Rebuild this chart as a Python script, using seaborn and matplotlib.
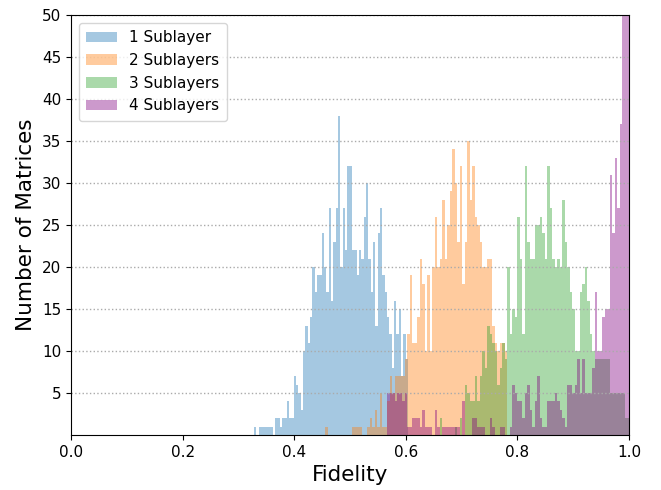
import numpy as np
import pandas as pd
import matplotlib
matplotlib.use("Agg")
import matplotlib.pyplot as plt
import seaborn as sns

labels = ["1 Sublayer", "2 Sublayers", "3 Sublayers", "4 Sublayers"]
colors = ["tab:blue", "tab:orange", "tab:green", "purple"]

# bin starts / widths (fidelity units) and counts per bin
blue_start, blue_width = 0.32796, 0.004181
blue_counts = [1, 0, 1, 1, 1, 1, 1, 1, 0, 2, 2, 1, 2, 2, 4, 2, 2, 7, 6, 5, 3, 10, 13, 11, 14,
               20, 17, 19, 19, 24, 20, 17, 27, 16, 23, 27, 38, 20, 27, 22, 32,
               32, 22, 22, 19, 22, 21, 26, 30, 21, 17, 23, 13, 24, 27, 19, 17,
               14, 12, 8, 16, 12, 15, 7, 12, 9]

orange_start, orange_width = 0.45520, 0.00448
orange_counts = [1, 0, 0, 0, 0, 0, 0, 0, 0, 0, 0,
                 1, 1, 1, 1, 0, 0, 1, 2, 1, 3, 1, 5, 1, 1, 4, 7, 5, 7, 7, 7, 7, 9, 12,
                 19, 11, 11, 14, 21, 18, 10, 19, 10, 20, 26, 20, 21, 28, 21, 25, 29, 34,
                 30, 23, 32, 18, 23, 35, 28, 32, 26, 25, 23, 20, 20, 21, 21, 13, 11, 10,
                 11, 11, 10]

green_start, green_width = 0.66129, 0.00448
green_counts = [2, 0, 0, 0, 0, 0, 1, 0, 2, 0,
                6, 5, 4, 4, 7, 4, 7, 10, 8, 13,
                12, 11, 10, 6, 8, 11, 9, 20, 12, 15,
                14, 26, 21, 12, 32, 23, 21, 21, 25, 25,
                26, 24, 21, 32, 27, 21, 20, 21, 20, 28,
                23, 20, 17, 15, 10, 10, 17, 18, 20, 16,
                12, 10, 9, 9, 9, 9, 9, 9, 5, 5,
                5, 5, 5, 5, 2, 2]

purple_start, purple_width = 0.56720, 0.00448
purple_counts = [5, 5, 5, 4, 5, 5, 4, 5, 1, 1,
                 2, 2, 2, 1, 3, 1, 1, 1, 0, 3,
                 1, 0, 1, 1, 1, 1, 1, 1, 1, 0,
                 4, 0, 0, 0, 2, 2, 1, 1, 1, 0,
                 0, 2, 1, 0, 0, 1, 1, 0, 0, 1,
                 6, 5, 4, 4, 2, 5, 6, 3, 1, 4,
                 7, 2, 1, 1, 4, 4, 4, 5, 4, 3,
                 2, 1, 6, 6, 5, 6, 9, 5, 9, 5,
                 5, 5, 8, 17, 10, 10, 14, 15, 15, 31,
                 24, 33, 27, 37, 60, 75, 90]

series = [
    (blue_start, blue_width, blue_counts),
    (orange_start, orange_width, orange_counts),
    (green_start, green_width, green_counts),
    (purple_start, purple_width, purple_counts),
]

fig = plt.figure(figsize=(6.61, 4.90), dpi=100)
ax = fig.add_axes([71 / 661, 1 - 435 / 490, (629 - 71) / 661, (435 - 15) / 490])

for (start, width, counts), lab, col in zip(series, labels, colors):
    counts = np.asarray(counts, dtype=float)
    edges = start + width * np.arange(len(counts) + 1)
    centers = (edges[:-1] + edges[1:]) / 2
    df = pd.DataFrame({"fidelity": centers, "n": counts})
    sns.histplot(data=df, x="fidelity", weights="n", bins=[float(e) for e in edges],
                 color=col, alpha=0.4, linewidth=0, edgecolor="none", label=lab,
                 ax=ax, stat="count", antialiased=True)

ax.set_xlim(0, 1.0)
ax.set_ylim(0, 50)
ax.set_xticks([0.0, 0.2, 0.4, 0.6, 0.8, 1.0])
ax.set_yticks(list(range(5, 51, 5)))
ax.tick_params(labelsize=11)
ax.grid(axis="y", linestyle=":", color="#aaaaaa", linewidth=1.0)
ax.set_xlabel("Fidelity", fontsize=15.5)
ax.set_ylabel("Number of Matrices", fontsize=15.5)
ax.legend(loc="upper left", fontsize=11, borderpad=0.5)
for s in ax.spines.values():
    s.set_visible(True)
    s.set_color("black")

fig.savefig("out.png", dpi=100)
